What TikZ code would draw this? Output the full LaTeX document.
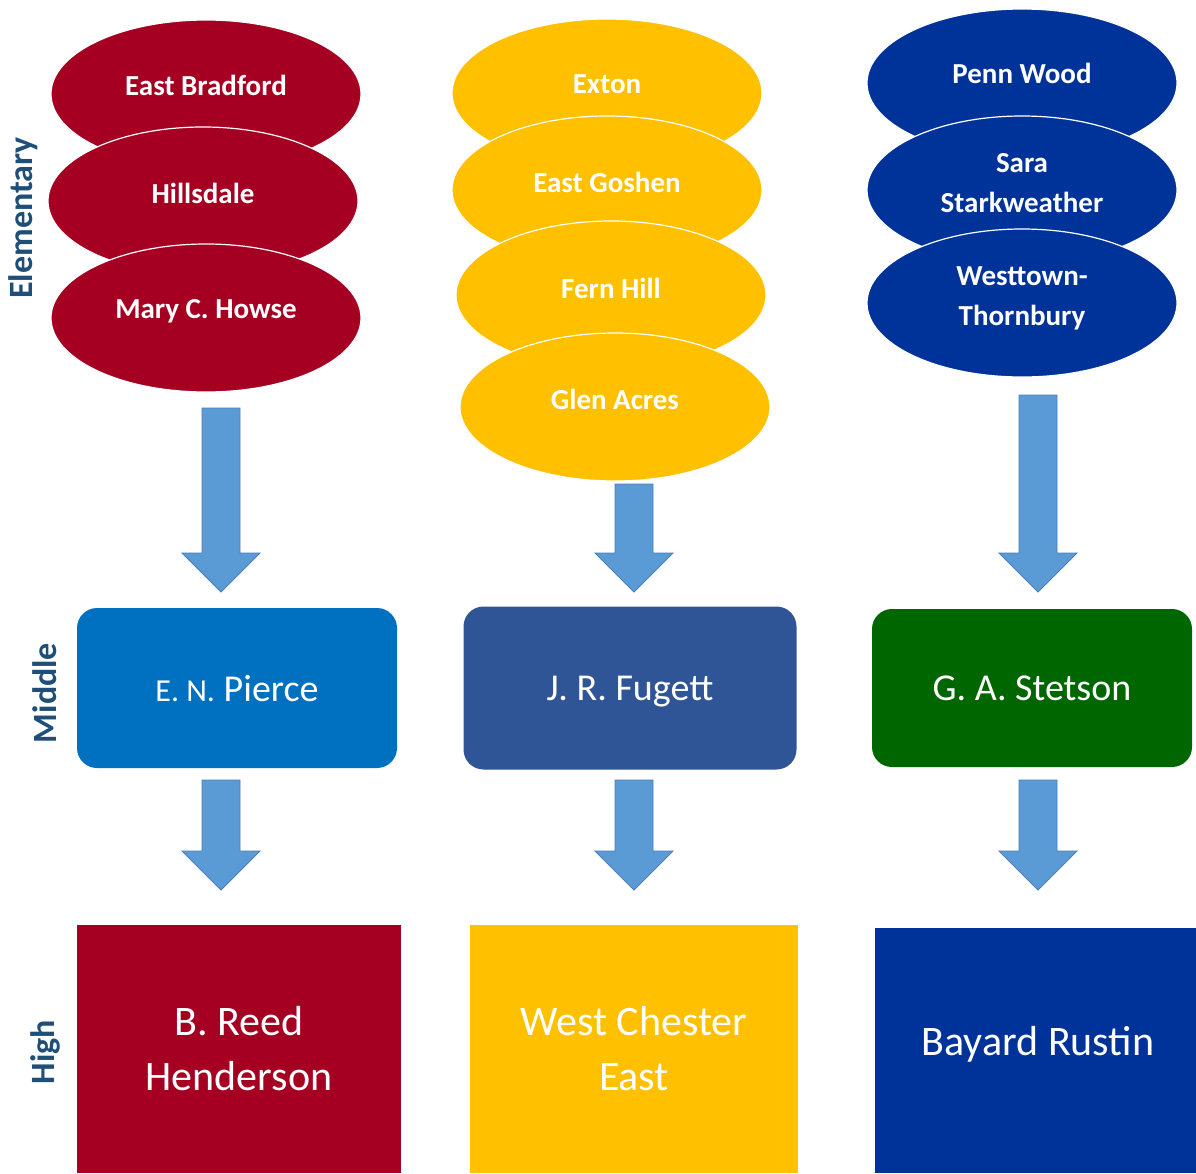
\documentclass[tikz,border=0pt]{standalone}
\usepackage{fontspec}
\setmainfont{Carlito}
\usetikzlibrary{shapes.geometric,calc}
\definecolor{cRed}{HTML}{A50021}
\definecolor{cYel}{HTML}{FFC000}
\definecolor{cNavy}{HTML}{003399}
\definecolor{cMidBlue}{HTML}{0070C0}
\definecolor{cSteel}{HTML}{2F5597}
\definecolor{cGreen}{HTML}{006600}
\definecolor{arrFill}{HTML}{5B9BD5}
\definecolor{arrDraw}{HTML}{4A7EBB}
\definecolor{sideCol}{HTML}{1F4E79}
\begin{document}
\begin{tikzpicture}[x=1pt,y=-1pt,
  ell/.style={shape=ellipse, fill=#1, draw=white, line width=1.2pt, minimum width=310pt, minimum height=148pt, inner sep=0pt},
  elltext/.style={text=white, font=\fontsize{29}{40}\selectfont\bfseries, align=center, inner sep=0pt},
  midbox/.style={fill=#1, draw=none, rounded corners=20pt, minimum width=320pt, minimum height=160pt, inner sep=0pt, text=white, text depth=0pt, font=\fontsize{38}{44}\selectfont},
  highbox/.style={fill=#1, draw=none, inner sep=0pt, text=white, align=center, font=\fontsize{42}{55}\selectfont},
  side/.style={rotate=90, text=sideCol, font=\fontsize{34}{40}\selectfont\bfseries, inner sep=0pt},
  blockarr/.style={fill=arrFill, draw=arrDraw, line width=0.8pt,
    to path={let \p1=(\tikztostart), \p2=(\tikztotarget) in
      (\x1-19pt,\y1) -- (\x1+19pt,\y1) -- (\x1+19pt,\y2+39pt) -- (\x1+39pt,\y2+39pt)
      -- (\x2,\y2) -- (\x1-39pt,\y2+39pt) -- (\x1-19pt,\y2+39pt) -- cycle}}
]
\useasboundingbox (0,0) rectangle (1196,1173);

% side labels
\node[side] (lelem) at (23,218) {Elementary};
\node[side] (lmid) at (45,693) {Middle};
\node[side] (lhigh) at (45,1052) {High};

% red column
\node[ell=cRed] (eb) at (206,94) {};
\node[elltext] (ebt) at ([yshift=9pt]eb.center) {East Bradford};
\node[ell=cRed] (hd) at (203,201) {};
\node[elltext] (hdt) at ([yshift=8pt]hd.center) {Hillsdale};
\node[ell=cRed] (mh) at (206,318) {};
\node[elltext] (mht) at ([yshift=7pt]mh.center) {Mary C. Howse};

% yellow column
\node[ell=cYel] (ex) at (607,93) {};
\node[elltext] (ext) at ([yshift=9pt]ex.center) {Exton};
\node[ell=cYel] (eg) at (607,190) {};
\node[elltext] (egt) at ([yshift=8pt]eg.center) {East Goshen};
\node[ell=cYel] (fh) at (611,295) {};
\node[elltext] (fht) at ([yshift=7pt]fh.center) {Fern Hill};
\node[ell=cYel] (ga) at (615,407) {};
\node[elltext] (gat) at ([yshift=8pt]ga.center) {Glen Acres};

% blue column
\node[ell=cNavy] (pw) at (1022,83) {};
\node[elltext] (pwt) at ([yshift=10pt]pw.center) {Penn Wood};
\node[ell=cNavy] (ss) at (1022,190) {};
\node[elltext] (sst) at ([yshift=7pt]ss.center) {Sara\\Starkweather};
\node[ell=cNavy] (wt) at (1022,303) {};
\node[elltext] (wtt) at ([yshift=5pt]wt.center) {Westtown-\\Thornbury};

% middle schools
\node[midbox=cMidBlue] (enp) at (237,688) {{\fontsize{32}{38}\selectfont E. N.} Pierce};
\node[midbox=cSteel, minimum width=333pt, minimum height=163pt] (jrf) at (630,688) {J. R. Fugett};
\node[midbox=cGreen, minimum height=158pt] (gas) at (1032,688) {G. A. Stetson};

% high schools
\node[highbox=cRed, minimum width=324pt, minimum height=248pt] (brh) at (239,1049) {B. Reed\\Henderson};
\node[highbox=cYel, minimum width=328pt, minimum height=248pt] (wce) at (634,1049) {West Chester\\East};
\node[highbox=cNavy, minimum width=321pt, minimum height=245pt] (bru) at (1035.5,1050.5) {};
\node[text=white, font=\fontsize{42}{55}\selectfont, inner sep=0pt] (brut) at (1038,1044) {Bayard Rustin};

% arrow end points
\coordinate (a1s) at (221,408);  \coordinate (a1t) at (221,592);
\coordinate (a2s) at (634,484);  \coordinate (a2t) at (634,592);
\coordinate (a3s) at (1038,395); \coordinate (a3t) at (1038,592);
\coordinate (b1s) at (221,780);  \coordinate (b1t) at (221,890);
\coordinate (b2s) at (634,780);  \coordinate (b2t) at (634,890);
\coordinate (b3s) at (1038,780); \coordinate (b3t) at (1038,890);

\draw[blockarr] (a1s) to (a1t);
\draw[blockarr] (a2s) to (a2t);
\draw[blockarr] (a3s) to (a3t);
\draw[blockarr] (b1s) to (b1t);
\draw[blockarr] (b2s) to (b2t);
\draw[blockarr] (b3s) to (b3t);
\end{tikzpicture}
\end{document}
